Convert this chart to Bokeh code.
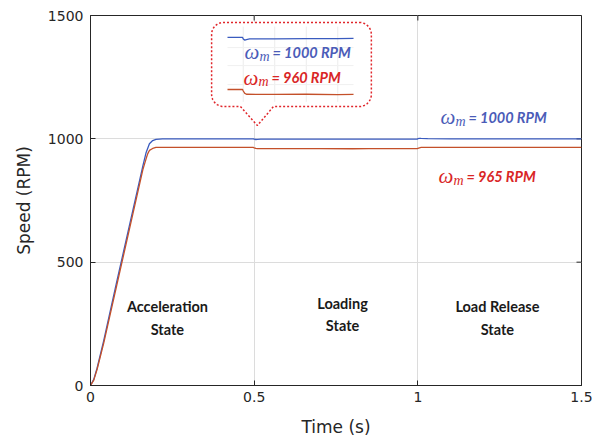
import numpy as np
from bokeh.plotting import figure
from bokeh.models import Range1d, FixedTicker
from bokeh.core.properties import value
from bokeh.embed import file_html
from bokeh.resources import INLINE

# ---------------- data ----------------
t_ref = [0, 0.01, 0.02, 0.04, 0.08, 0.12, 0.16, 0.17, 0.18, 0.19, 0.2, 0.22, 0.3, 0.45,
         0.498, 0.5, 0.505, 0.51, 0.52, 0.6, 0.7, 0.8, 0.85, 0.998, 1.0, 1.005,
         1.01, 1.03, 1.1, 1.5]
speed_ref = [0, 25, 70, 180, 420, 655, 890, 945, 980, 993, 998, 1000, 1000, 1000,
             1000, 998.5, 997.3, 997.8, 998.5, 998.6, 998.8, 998.9, 999, 999, 1000.5, 1002,
             1001.5, 1000.5, 1000, 1000]

t_act = [0, 0.01, 0.02, 0.04, 0.08, 0.12, 0.16, 0.17, 0.175, 0.18, 0.19, 0.2, 0.3, 0.45,
         0.498, 0.5, 0.505, 0.51, 0.6, 0.7, 0.8, 0.85, 0.998, 1.0, 1.005, 1.01, 1.5]
speed_act = [0, 22, 65, 170, 405, 640, 875, 920, 940, 953, 961, 965, 965, 965,
             965, 963.5, 961, 960.2, 960, 960.2, 959.8, 960, 960, 961.5, 963.5, 965, 965]

x_ticks = [0, 0.5, 1, 1.5]
x_tick_labels = ["0", "0.5", "1", "1.5"]
y_ticks = [0, 500, 1000, 1500]

state_labels = ["Acceleration\nState", "Loading\nState", "Load Release\nState"]
label_ref_main = "= 1000 RPM"
label_act_main = "= 965 RPM"
label_ref_inset = "= 1000 RPM"
label_act_inset = "= 960 RPM"

# ---------------- styles ----------------
BLUE = "#3a5bbf"
RED = "#c4502a"
BLUE_TXT = "#4b5cb8"
RED_TXT = "#d92626"
AX = "#262626"
CALLOUT = "#e0262b"

p = figure(width=607, height=445, x_range=Range1d(0, 1.5), y_range=Range1d(0, 1500),
           output_backend="svg", toolbar_location=None,
           min_border_left=90, min_border_right=26, min_border_top=15, min_border_bottom=60)
p.background_fill_color = "white"
p.border_fill_color = "white"
p.outline_line_color = AX
p.outline_line_width = 1

for ax in (p.xaxis[0], p.yaxis[0]):
    ax.major_tick_in = 5
    ax.major_tick_out = 0
    ax.minor_tick_line_color = None
    ax.axis_line_color = AX
    ax.major_tick_line_color = AX
    ax.major_label_text_font = "DejaVu Sans"
    ax.major_label_text_font_size = "14px"
    ax.major_label_text_color = AX
    ax.axis_label_text_font = "DejaVu Sans"
    ax.axis_label_text_font_size = "17px"
    ax.axis_label_text_font_style = "normal"
    ax.axis_label_text_color = AX

p.xaxis[0].ticker = FixedTicker(ticks=x_ticks)
p.xaxis[0].major_label_overrides = {t: l for t, l in zip(x_ticks, x_tick_labels)}
p.yaxis[0].ticker = FixedTicker(ticks=y_ticks)
p.xaxis[0].axis_label = "Time (s)"
p.yaxis[0].axis_label = "Speed (RPM)"
p.xaxis[0].major_label_standoff = 6
p.yaxis[0].major_label_standoff = 7
p.xaxis[0].axis_label_standoff = 12
p.yaxis[0].axis_label_standoff = 11

p.xgrid.ticker = FixedTicker(ticks=x_ticks)
p.ygrid.ticker = FixedTicker(ticks=y_ticks)
p.grid.grid_line_color = "#dcdcdc"
p.grid.grid_line_width = 1

# inward tick marks on the top and right edges of the box
p.ray(x=x_ticks, y=[1500] * len(x_ticks), length=5, length_units="screen",
      angle=-np.pi / 2, line_color=AX, line_width=1)
p.ray(x=[1.5] * len(y_ticks), y=y_ticks, length=5, length_units="screen",
      angle=np.pi, line_color=AX, line_width=1)

# main curves
p.line(t_ref, speed_ref, line_color=BLUE, line_width=1.3)
p.line(t_act, speed_act, line_color=RED, line_width=1.3)

# ---------------- callout with zoomed view ----------------
bx0, bx1, by0, by1 = 0.370, 0.858, 1131, 1472
rx, ry = 12 * 1.5 / 491, 12 * 1500 / 370
tip_x, tip_y, base_l, base_r = 0.510, 1054, 0.458, 0.559

def arc(cx, cy, a0, a1, n=12):
    a = np.radians(np.linspace(a0, a1, n))
    return list(cx + rx * np.cos(a)), list(cy + ry * np.sin(a))

xs, ys = [], []
for seg in (arc(bx1 - rx, by1 - ry, 90, 0), arc(bx1 - rx, by0 + ry, 0, -90)):
    xs += seg[0]; ys += seg[1]
xs += [base_r, tip_x, base_l]; ys += [by0, tip_y, by0]
for seg in (arc(bx0 + rx, by0 + ry, -90, -180), arc(bx0 + rx, by1 - ry, 180, 90)):
    xs += seg[0]; ys += seg[1]
p.patch(xs, ys, fill_color="white", line_color=CALLOUT, line_dash="2 2", line_width=1.5)

# inset mapping
t0, t1 = 0.45, 0.85
ix0, k = 0.4185, 0.9625
gain = 4.0

def inset(tt, ss, ref, base):
    tt = np.asarray(tt, float); ss = np.asarray(ss, float)
    m = (tt >= t0) & (tt <= t1)
    return ix0 + (tt[m] - t0) * k, base + (ss[m] - ref) * gain

# faint inset grid
for tg in (0.5, 0.6, 0.7, 0.8):
    xg = ix0 + (tg - t0) * k
    p.line([xg, xg], [1150, 1455], line_color="#ececec", line_width=1)
for yg in (1370, 1297, 1220):
    p.line([ix0, ix0 + (t1 - t0) * k], [yg, yg], line_color="#f0f0f0", line_width=1)

xi, yi = inset(t_ref, speed_ref, 1000, 1411)
p.line(xi, yi, line_color=BLUE, line_width=1.3)
xi, yi = inset(t_act, speed_act, 965, 1200)
p.line(xi, yi, line_color=RED, line_width=1.3)

# ---------------- omega labels ----------------
def omega_label(x, y, rest, color):
    p.text(x=[x], y=[y], text=["ω"], y_offset=-6, text_font=value("Liberation Serif"),
           text_font_style="italic", text_font_size="21px", text_color=color,
           text_baseline="alphabetic", text_align="left")
    p.text(x=[x], y=[y], text=["m"], x_offset=15, y_offset=-2,
           text_font=value("Liberation Serif"), text_font_style="italic",
           text_font_size="14px", text_color=color,
           text_baseline="alphabetic", text_align="left")
    p.text(x=[x], y=[y], text=[rest], x_offset=28, y_offset=-6, text_font=value("Lato"),
           text_font_style="bold italic", text_font_size="14.5px", text_color=color,
           text_baseline="alphabetic", text_align="left")

omega_label(1.069, 1063, label_ref_main, BLUE_TXT)
omega_label(1.063, 824, label_act_main, RED_TXT)
omega_label(0.4705, 1327, label_ref_inset, BLUE_TXT)
omega_label(0.4674, 1223, label_act_inset, RED_TXT)

# ---------------- state labels ----------------
p.text(x=[0.235, 0.770, 1.243], y=[273.6, 286, 273.6], text=state_labels,
       text_font=value("Lato"), text_font_style="bold", text_font_size="14.5px",
       text_color="#1a1a1a", text_align="center", text_baseline="middle",
       text_line_height=1.3)

open("out.html", "w").write(file_html(p, INLINE))
